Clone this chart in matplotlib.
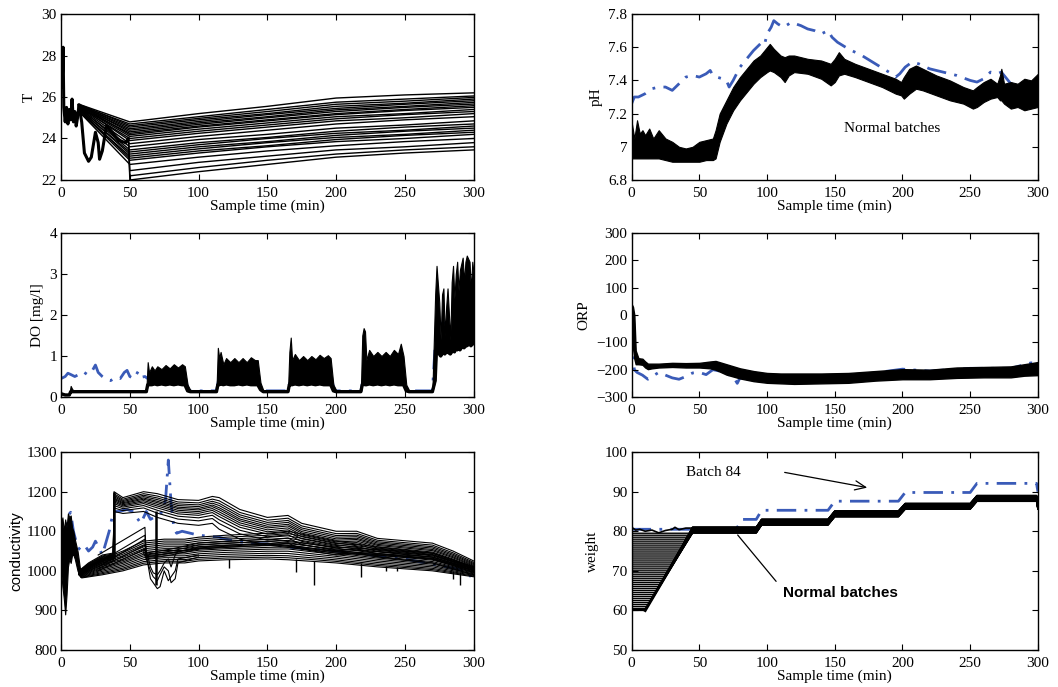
import matplotlib
matplotlib.use("Agg")
import matplotlib.pyplot as plt
import numpy as np

plt.rcParams['font.family'] = ['Liberation Serif', 'DejaVu Serif']
plt.rcParams['font.size'] = 11

BLUE = '#3a5bb8'
DASHDOT = (0, (7, 3, 1, 3))

# ---------------- T ----------------
T_start_t = [0, 0.5, 1, 1.5, 2, 3, 4, 5, 6, 7, 8, 9, 10, 11, 12, 13]
T_start_v = [26.5, 28.3, 27.0, 28.4, 25.5, 24.8, 25.5, 24.7, 25.4, 24.9, 25.9, 24.8, 25.3, 24.6, 25.0, 25.6]
# oscillating start of the coldest batches
T_osc_t = [13, 15, 17, 20, 22, 25, 27, 28, 30, 33, 36, 42, 47, 49]
T_osc_v = [25.6, 24.8, 23.3, 22.9, 23.1, 24.3, 23.8, 23.0, 23.4, 24.6, 24.4, 23.9, 23.8, 24.0]
T_knots = [50, 100, 150, 200, 250, 300]
T13 = [25.6, 25.6, 25.6, 25.3, 25.35, 25.4, 25.3, 25.45, 25.4, 25.5, 25.45, 25.5, 25.55, 25.5,
       25.55, 25.6, 25.5, 25.6, 25.55, 25.6, 25.6, 25.65, 25.6, 25.65]
T50 = [22.0, 22.2, 22.45, 22.75, 22.95, 23.05, 23.15, 23.25, 23.35, 23.45, 23.6, 23.75, 23.9, 24.0,
       24.1, 24.18, 24.25, 24.32, 24.4, 24.47, 24.55, 24.62, 24.7, 24.8]
T100 = [22.4, 22.6, 22.85, 23.1, 23.3, 23.4, 23.5, 23.6, 23.7, 23.8, 23.95, 24.1, 24.25, 24.35,
        24.45, 24.55, 24.6, 24.68, 24.75, 24.82, 24.9, 24.97, 25.05, 25.2]
T150 = [22.75, 22.95, 23.15, 23.4, 23.6, 23.65, 23.8, 23.85, 24.0, 24.05, 24.2, 24.4, 24.55, 24.65,
        24.75, 24.85, 24.9, 25.0, 25.05, 25.15, 25.2, 25.3, 25.4, 25.55]
T200 = [23.1, 23.25, 23.45, 23.65, 23.85, 23.95, 24.05, 24.15, 24.25, 24.35, 24.5, 24.7, 24.85, 24.95,
        25.05, 25.15, 25.2, 25.3, 25.38, 25.45, 25.55, 25.65, 25.75, 25.95]
T250 = [23.3, 23.45, 23.6, 23.85, 24.0, 24.15, 24.2, 24.35, 24.4, 24.55, 24.65, 24.9, 25.0, 25.15,
        25.2, 25.35, 25.4, 25.5, 25.55, 25.65, 25.7, 25.8, 25.9, 26.1]
T300 = [23.45, 23.6, 23.8, 24.0, 24.2, 24.3, 24.4, 24.5, 24.6, 24.7, 24.85, 25.05, 25.2, 25.3,
        25.4, 25.5, 25.58, 25.66, 25.74, 25.82, 25.9, 25.98, 26.05, 26.2]
n_osc = 3

# ---------------- pH ----------------
ph_t = [0, 2, 4, 6, 8, 10, 13, 16, 20, 25, 30, 35, 40, 45, 50, 55, 60, 62, 65, 70, 75, 80, 85, 90, 95,
        100, 102, 105, 110, 113, 116, 120, 130, 140, 147, 150, 153, 157, 165, 175, 185, 195, 199, 201,
        205, 210, 215, 225, 235, 245, 252, 255, 260, 265, 270, 272, 273, 275, 280, 285, 290, 295, 300]
ph_hi = [7.15, 7.05, 7.16, 7.08, 7.1, 7.07, 7.11, 7.05, 7.1, 7.05, 7.03, 7.0, 6.99, 7.0, 7.03, 7.04, 7.05,
         7.1, 7.2, 7.28, 7.36, 7.42, 7.47, 7.52, 7.55, 7.6, 7.62, 7.59, 7.55, 7.54, 7.55, 7.55, 7.53, 7.52,
         7.5, 7.53, 7.57, 7.53, 7.5, 7.47, 7.44, 7.41, 7.39, 7.42, 7.47, 7.49, 7.47, 7.43, 7.4, 7.36, 7.34,
         7.36, 7.39, 7.41, 7.38, 7.43, 7.47, 7.38, 7.39, 7.38, 7.41, 7.4, 7.44]
ph_lo = [6.93, 6.93, 6.93, 6.93, 6.93, 6.93, 6.93, 6.93, 6.93, 6.92, 6.91, 6.91, 6.91, 6.91, 6.91, 6.92, 6.92,
         6.93, 7.03, 7.14, 7.22, 7.28, 7.33, 7.38, 7.42, 7.45, 7.46, 7.45, 7.42, 7.39, 7.43, 7.45, 7.44, 7.41,
         7.37, 7.39, 7.43, 7.44, 7.42, 7.39, 7.36, 7.32, 7.31, 7.29, 7.32, 7.35, 7.34, 7.31, 7.28, 7.26, 7.23,
         7.24, 7.27, 7.29, 7.3, 7.28, 7.28, 7.26, 7.23, 7.24, 7.22, 7.23, 7.24]
ph84_t = [0, 2, 5, 10, 15, 20, 25, 30, 35, 40, 45, 50, 55, 58, 60, 63, 67, 70, 72, 75, 80, 85, 90, 95, 98,
          100, 103, 105, 108, 112, 118, 125, 130, 135, 140, 145, 148, 152, 160, 170, 180, 190, 195, 198,
          202, 207, 212, 220, 230, 240, 250, 255, 260, 265, 270, 273, 276, 280, 285, 290, 300]
ph84_v = [7.26, 7.30, 7.30, 7.32, 7.35, 7.36, 7.36, 7.34, 7.38, 7.42, 7.43, 7.42, 7.44, 7.46, 7.43, 7.42,
          7.41, 7.40, 7.36, 7.40, 7.48, 7.53, 7.58, 7.62, 7.61, 7.68, 7.72, 7.76, 7.74, 7.72, 7.75, 7.73,
          7.71, 7.70, 7.68, 7.70, 7.66, 7.63, 7.59, 7.55, 7.50, 7.45, 7.42, 7.44, 7.48, 7.51, 7.50, 7.47,
          7.45, 7.43, 7.40, 7.39, 7.41, 7.45, 7.44, 7.45, 7.42, 7.38, 7.37, 7.35, 7.35]

# ---------------- DO ----------------
do_t = [0, 3, 6, 7, 8, 9, 62, 63, 64, 66, 68, 70, 73, 76, 79, 82, 85, 88, 90, 92, 94, 113, 114, 115, 116,
        118, 120, 123, 126, 129, 132, 135, 138, 141, 143, 145, 147, 165, 166, 167, 168, 170, 173, 176, 179,
        182, 185, 188, 191, 194, 196, 198, 200, 218, 219, 220, 221, 222, 224, 227, 230, 233, 236, 239, 242,
        245, 247, 249, 251, 253, 270, 272, 273, 275, 276, 277, 278, 279, 280, 281, 283, 284, 285, 286, 287,
        288, 289, 290, 292, 293, 294, 295, 297, 298, 299, 300]
do_lo = [0.08, 0.05, 0.05, 0.13, 0.13, 0.13, 0.13, 0.3, 0.3, 0.3, 0.32, 0.3, 0.32, 0.3, 0.32, 0.3, 0.32, 0.3,
         0.3, 0.15, 0.13, 0.13, 0.3, 0.3, 0.32, 0.3, 0.32, 0.3, 0.3, 0.32, 0.3, 0.32, 0.3, 0.3, 0.3, 0.18,
         0.13, 0.13, 0.3, 0.3, 0.3, 0.32, 0.3, 0.32, 0.3, 0.32, 0.3, 0.32, 0.3, 0.3, 0.3, 0.15, 0.13, 0.13,
         0.3, 0.32, 0.3, 0.3, 0.32, 0.3, 0.32, 0.3, 0.32, 0.3, 0.32, 0.3, 0.3, 0.3, 0.15, 0.13, 0.13, 0.4,
         1.2, 1.05, 1.0, 1.05, 1.1, 1.05, 1.1, 1.1, 1.05, 1.1, 1.15, 1.1, 1.2, 1.15, 1.2, 1.15, 1.25, 1.2,
         1.25, 1.25, 1.3, 1.25, 1.3, 1.3]
do_hi = [0.1, 0.07, 0.07, 0.27, 0.2, 0.16, 0.16, 0.85, 0.6, 0.75, 0.65, 0.75, 0.68, 0.78, 0.7, 0.8, 0.72, 0.8,
         0.75, 0.3, 0.17, 0.17, 1.2, 0.95, 1.1, 0.8, 0.95, 0.85, 0.95, 0.85, 0.95, 0.85, 0.97, 0.9, 0.9, 0.35,
         0.17, 0.17, 1.1, 1.45, 0.9, 1.05, 0.9, 1.0, 0.9, 1.0, 0.92, 1.03, 0.95, 1.02, 0.95, 0.3, 0.17, 0.17,
         1.5, 1.68, 1.6, 0.9, 1.15, 1.0, 1.1, 1.0, 1.1, 1.0, 1.15, 1.05, 1.3, 1.0, 0.3, 0.17, 0.17, 2.5,
         3.2, 2.3, 1.4, 2.5, 2.65, 1.5, 2.2, 2.65, 1.4, 2.8, 3.2, 2.4, 3.0, 3.3, 2.6, 3.1, 3.4, 2.8,
         3.3, 3.45, 3.3, 2.6, 3.3, 3.0]
do84_t = [0, 3, 5, 7, 10, 13, 16, 19, 22, 25, 27, 30, 33, 36, 40, 43, 46, 48, 50, 53, 56, 58, 61, 63, 90,
          93, 113, 115, 143, 146, 165, 167, 196, 199, 218, 220, 249, 252, 270, 273, 299, 300]
do84_v = [0.45, 0.5, 0.58, 0.55, 0.5, 0.55, 0.62, 0.55, 0.6, 0.78, 0.6, 0.5, 0.42, 0.4, 0.48, 0.45, 0.6,
          0.65, 0.5, 0.45, 0.62, 0.48, 0.5, 0.45, 0.45, 0.15, 0.15, 0.5, 0.5, 0.15, 0.15, 0.5, 0.5, 0.15,
          0.15, 0.5, 0.5, 0.15, 0.15, 1.8, 1.8, 1.3]

# ---------------- ORP ----------------
orp_t = [0, 1, 2, 3, 5, 8, 10, 12, 15, 20, 30, 40, 50, 58, 62, 70, 80, 90, 100, 110, 120, 140, 160, 180,
         200, 220, 240, 260, 280, 290, 300]
orp_lo = [-60, -120, -160, -180, -180, -182, -192, -198, -195, -192, -190, -192, -192, -195, -200, -218,
          -232, -242, -248, -250, -252, -250, -248, -240, -235, -235, -230, -228, -228, -222, -220]
orp_hi = [40, 30, 0, -130, -158, -160, -170, -178, -178, -178, -175, -176, -175, -170, -168, -180, -195,
          -205, -212, -214, -214, -214, -212, -205, -198, -200, -192, -190, -188, -180, -172]
orp84_t = [0, 2, 4, 8, 12, 15, 20, 25, 30, 35, 40, 45, 50, 55, 60, 65, 70, 75, 78, 80, 90, 120, 160,
           200, 220, 250, 280, 295, 300]
orp84_v = [-50, -200, -210, -220, -235, -225, -210, -220, -230, -235, -225, -212, -210, -218, -200, -205,
           -215, -225, -250, -230, -230, -230, -225, -198, -205, -195, -195, -175, -180]

# ---------------- conductivity ----------------
c_start_t = [0, 1, 2, 3, 4, 5, 6, 7, 8, 9, 10, 12, 14]
c_start_lo = [1000, 960, 930, 890, 940, 1010, 1030, 1020, 1040, 1040, 1030, 1000, 985]
c_start_hi = [1120, 1135, 1100, 1130, 1110, 1145, 1135, 1140, 1110, 1100, 1080, 1050, 1000]
cA_t = [13, 20, 30, 38, 38.5, 45, 60, 70, 85, 100, 110, 115, 130, 150, 165, 175, 200, 215, 230, 270, 285, 300]
cA_top = [1000, 1020, 1040, 1045, 1200, 1185, 1200, 1195, 1180, 1178, 1188, 1185, 1155, 1135, 1140, 1120,
          1100, 1100, 1082, 1070, 1050, 1025]
cA_bot = [990, 1000, 1015, 1025, 1150, 1145, 1150, 1135, 1120, 1115, 1120, 1105, 1080, 1065, 1070, 1055,
          1040, 1045, 1035, 1020, 1005, 990]
cA_frac = [0.0, 0.1, 0.18, 0.25, 0.32, 0.38, 0.45, 0.52, 0.6, 0.7, 0.82, 1.0]
cB_t = [13, 15, 30, 45, 60, 75, 90, 100, 120, 150, 165, 200, 230, 270, 300]
cB_top = [1000, 1000, 1030, 1050, 1075, 1080, 1080, 1085, 1090, 1095, 1100, 1075, 1060, 1045, 1010]
cB_bot = [990, 982, 990, 1000, 1015, 1020, 1020, 1025, 1028, 1030, 1028, 1020, 1010, 1000, 985]
cB_frac = [0.0, 0.08, 0.16, 0.24, 0.32, 0.4, 0.48, 0.55, 0.62, 0.7, 0.78, 0.86, 0.93, 1.0]
# batches climbing before the 62 min drop
cC_t = [27, 61, 62, 80, 100, 150, 200, 270, 300]
cC_lines = [[1040, 1110, 1035, 1045, 1060, 1070, 1050, 1035, 1005],
            [1020, 1090, 1040, 1050, 1065, 1075, 1055, 1040, 1008],
            [1010, 1080, 1030, 1040, 1055, 1065, 1045, 1030, 1000],
            [1005, 1065, 1045, 1055, 1070, 1080, 1060, 1045, 1010],
            [1000, 1055, 1035, 1045, 1058, 1068, 1048, 1032, 1002]]
# batches dipping between 62 and 85 min
cD_t = [60, 62, 65, 67, 70, 72, 75, 78, 80, 83, 85, 100]
cD_lines = [[1050, 1040, 980, 970, 955, 960, 1000, 975, 985, 1000, 1030, 1040],
            [1045, 1030, 1000, 985, 975, 990, 1010, 1000, 970, 980, 1020, 1035],
            [1055, 1050, 1010, 995, 990, 1000, 1020, 1030, 1010, 1040, 1050, 1055]]
c_drop_t = [38.5, 69]
c_drop_top = [1200, 1150]
c_drop_bot = [1030, 965]
c_spike_t = [122, 171, 184, 218, 236, 244, 285, 290]
c_spike_top = [1030, 1030, 1025, 1020, 1012, 1010, 1000, 997]
c_spike_bot = [1008, 998, 965, 985, 1000, 1000, 980, 965]
c84_t = [0, 2, 3, 4, 5, 7, 9, 12, 15, 18, 20, 23, 25, 28, 30, 35, 38, 42, 48, 52, 56, 58, 62, 65, 70, 74,
         76, 78, 80, 82, 84, 88, 100, 115, 120, 135, 150, 165, 200, 250, 295, 300]
c84_v = [1000, 1050, 940, 1000, 1140, 1148, 1100, 1060, 1050, 1060, 1050, 1060, 1075, 1055, 1040, 1100,
         1150, 1150, 1155, 1150, 1130, 1120, 1150, 1130, 1140, 1150, 1180, 1280, 1170, 1110, 1095, 1100,
         1090, 1085, 1080, 1070, 1068, 1060, 1050, 1030, 1000, 975]

# ---------------- weight ----------------
w0 = [60.0, 60.5, 61.0, 61.5, 62.0, 62.5, 63.0, 63.5, 64.0, 64.5, 65.0, 65.5, 66.0, 66.5, 67.0, 67.5,
      68.0, 68.5, 69.0, 69.5, 70.0, 70.5, 71.0, 71.5, 72.0, 72.5, 73.0, 73.5, 74.0, 74.5, 75.0, 75.5,
      76.0, 76.5, 77.0, 77.5, 78.0, 78.5, 79.0, 79.5]
w_off = [-0.7, 0.3, -0.2, 0.6, -0.5, 0.1, 0.7, -0.4, 0.4, -0.1, 0.5, -0.6, 0.2, -0.3, 0.65, -0.75, 0.0,
         0.45, -0.45, 0.25, -0.25, 0.55, -0.55, 0.15, -0.15, 0.35, -0.35, 0.75, -0.65, 0.05, -0.05, 0.6,
         -0.6, 0.3, -0.3, 0.7, -0.7, 0.1, -0.1, 0.5]
w_ramp_t = [10, 45]
w_ramp_v = [60.0, 80.3]
w_step_t = [45, 92, 96, 145, 150, 197, 202, 250, 255, 299, 300]
w_step_v = [80.3, 80.3, 82.3, 82.3, 84.4, 84.4, 86.3, 86.3, 88.3, 88.3, 86.3]
w_top_t = [0, 3, 6, 10, 15, 20, 25, 30, 32, 35, 40, 45]
w_top_v = [81.0, 80.3, 80.5, 80.0, 80.3, 79.6, 80.2, 80.5, 81.0, 80.4, 80.8, 80.8]
w84_t = [0, 45, 77, 82, 92, 96, 145, 150, 197, 202, 250, 255, 299, 300]
w84_v = [80.5, 80.5, 80.5, 83.0, 83.0, 85.3, 85.3, 87.6, 87.6, 89.8, 89.8, 92.1, 92.1, 90.0]


def style(ax, ylim, yticks, ylabel, yticklabels=None, ylabel_kw=None):
    ax.set_xlim(0, 300)
    ax.set_ylim(*ylim)
    ax.set_xticks([0, 50, 100, 150, 200, 250, 300])
    ax.set_yticks(yticks)
    if yticklabels is not None:
        ax.set_yticklabels(yticklabels)
    ax.tick_params(direction='in', top=True, right=True, length=4, width=0.8, labelsize=11)
    ax.tick_params(axis='x', pad=5)
    ax.tick_params(axis='y', pad=3)
    for s in ax.spines.values():
        s.set_linewidth(1.0)
        s.set_zorder(5)
    ax.set_xlabel('Sample time (min)', fontsize=11, labelpad=0)
    ax.set_ylabel(ylabel, fontsize=11, **(ylabel_kw or {}))


fig = plt.figure(figsize=(10.58, 6.87), dpi=100)
lx, lw_ = 0.0577, 0.390
rx, rw = 0.597, 0.384
ax_T = fig.add_axes([lx, 0.738, lw_, 0.2416])
ax_pH = fig.add_axes([rx, 0.738, rw, 0.2416])
ax_DO = fig.add_axes([lx, 0.4221, lw_, 0.2387])
ax_ORP = fig.add_axes([rx, 0.4221, rw, 0.2387])
ax_C = fig.add_axes([lx, 0.0539, lw_, 0.288])
ax_W = fig.add_axes([rx, 0.0539, rw, 0.288])

# T
for i in range(len(T50)):
    vals = [T50[i], T100[i], T150[i], T200[i], T250[i], T300[i]]
    if i < n_osc:
        tt, vv = T_osc_t + T_knots, T_osc_v + vals
    else:
        tt, vv = [13] + T_knots, [T13[i]] + vals
    ax_T.plot(tt, vv, color='black', lw=1.0)
ax_T.plot(T_start_t, T_start_v, color='black', lw=2.2)
ax_T.plot(T_osc_t, T_osc_v, color='black', lw=2.2)
style(ax_T, (22, 30), [22, 24, 26, 28, 30], 'T')

# pH
ax_pH.plot(ph84_t, ph84_v, color=BLUE, lw=2, linestyle=DASHDOT, zorder=0.9)
ax_pH.fill_between(ph_t, ph_lo, ph_hi, color='black', lw=0.8)
ax_pH.text(192, 7.11, 'Normal batches', ha='center', va='center', fontsize=11)
style(ax_pH, (6.8, 7.8), [6.8, 7.0, 7.2, 7.4, 7.6, 7.8], 'pH',
      ['6.8', '7', '7.2', '7.4', '7.6', '7.8'])

# DO
ax_DO.plot(do84_t, do84_v, color=BLUE, lw=2, linestyle=DASHDOT, zorder=0.9)
ax_DO.fill_between(do_t, do_lo, do_hi, color='black', lw=0.8)
ax_DO.plot(do_t, do_lo, color='black', lw=2.4)
style(ax_DO, (0, 4), [0, 1, 2, 3, 4], 'DO [mg/l]')

# ORP
ax_ORP.plot(orp84_t, orp84_v, color=BLUE, lw=2, linestyle=DASHDOT, zorder=0.9)
ax_ORP.fill_between(orp_t, orp_lo, orp_hi, color='black', lw=1.0)
style(ax_ORP, (-300, 300), [-300, -200, -100, 0, 100, 200, 300], 'ORP')

# conductivity
ax_C.plot(c84_t, c84_v, color=BLUE, lw=2, linestyle=DASHDOT, zorder=0.9)
ax_C.fill_between(c_start_t, c_start_lo, c_start_hi, color='black', lw=0.8)
topA, botA = np.array(cA_top), np.array(cA_bot)
for f in cA_frac:
    ax_C.plot(cA_t, topA + f * (botA - topA), color='black', lw=0.8)
topB, botB = np.array(cB_top), np.array(cB_bot)
for f in cB_frac:
    ax_C.plot(cB_t, topB + f * (botB - topB), color='black', lw=0.8)
for line in cC_lines:
    ax_C.plot(cC_t, line, color='black', lw=0.8)
for line in cD_lines:
    ax_C.plot(cD_t, line, color='black', lw=0.8)
ax_C.vlines(c_drop_t, c_drop_bot, c_drop_top, color='black', lw=1.8)
ax_C.vlines(c_spike_t, c_spike_bot, c_spike_top, color='black', lw=1.0)
style(ax_C, (800, 1300), [800, 900, 1000, 1100, 1200, 1300], 'conductivity',
      ylabel_kw=dict(family='Liberation Sans', labelpad=2))

# weight
ax_W.plot(w84_t, w84_v, color=BLUE, lw=2, linestyle=DASHDOT, zorder=0.9)
for start, d in zip(w0, w_off):
    t_hit = np.interp(start, w_ramp_v, w_ramp_t)
    tt = [0, t_hit] + w_step_t
    vv = [start, start] + [v + d for v in w_step_v]
    ax_W.plot(tt, vv, color='black', lw=1.0)
ax_W.plot(w_ramp_t, w_ramp_v, color='black', lw=2.2)
ax_W.plot([0, 10], [60, 60], color='black', lw=1.5)
ax_W.plot(w_top_t, w_top_v, color='black', lw=1.2)
ax_W.plot([0, 0], [60, 81], color='black', lw=1.5)
ax_W.text(60, 94.9, 'Batch 84', ha='center', va='center', fontsize=11)
ax_W.annotate('', xy=(176, 90.9), xytext=(111, 95.0),
              arrowprops=dict(arrowstyle='->,head_length=0.7,head_width=0.3', color='black', lw=0.9))
ax_W.annotate('', xy=(77, 79.6), xytext=(108, 66.8),
              arrowprops=dict(arrowstyle='-', color='black', lw=0.9))
ax_W.text(111.5, 64.5, 'Normal batches', ha='left', va='center', fontsize=11,
          family='Liberation Sans', fontweight='bold')
style(ax_W, (50, 100), [50, 60, 70, 80, 90, 100], 'weight')

fig.savefig('out.png', dpi=100)
